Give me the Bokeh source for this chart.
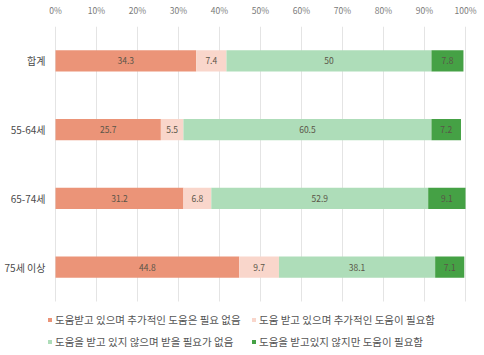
from bokeh.plotting import figure
from bokeh.models import ColumnDataSource, Range1d, Legend, LegendItem, FixedTicker, CustomJSTickFormatter
from bokeh.core.properties import value
from bokeh.embed import file_html
from bokeh.resources import INLINE

categories = ["합계", "55-64세", "65-74세", "75세 이상"]
series_names = [
    "도움받고 있으며 추가적인 도움은 필요 없음",
    "도움 받고 있으며 추가적인 도움이 필요함",
    "도움을 받고 있지 않으며 받을 필요가 없음",
    "도움을 받고있지 않지만 도움이 필요함",
]
s1 = [34.3, 25.7, 31.2, 44.8]
s2 = [7.4, 5.5, 6.8, 9.7]
s3 = [50, 60.5, 52.9, 38.1]
s4 = [7.8, 7.2, 9.1, 7.1]
x_ticks = [0, 10, 20, 30, 40, 50, 60, 70, 80, 90, 100]

colors = ["#EB9478", "#F9D6CB", "#AEDDB9", "#45A145"]
keys = ["s1", "s2", "s3", "s4"]
FONT = "Noto Sans CJK KR"

# layout (pixels)
W, H = 484, 355
LEFT, RIGHT, TOP = 55, 19, 20
BAND = 70  # px per category
pxu = 100 / (W - LEFT - RIGHT)  # data units per px (x)
n = len(categories)
ypos = [n - 1 - i for i in range(n)]  # top category highest
y_top = n - 0.5
y_bot = y_top - (H - TOP) / BAND

src = ColumnDataSource(dict(y=ypos, cat=categories, s1=s1, s2=s2, s3=s3, s4=s4))

p = figure(width=W, height=H, output_backend="svg", toolbar_location=None,
           x_range=Range1d(-LEFT * pxu, 100 + RIGHT * pxu), y_range=Range1d(y_bot, y_top),
           x_axis_location="above", y_axis_location=None,
           min_border_left=0, min_border_right=0, min_border_top=TOP, min_border_bottom=0)
p.outline_line_color = None
p.grid.visible = False

# grid lines at ticks, spanning the category area
p.segment(x0=x_ticks, x1=x_ticks, y0=[y_top] * len(x_ticks), y1=[-0.5] * len(x_ticks),
          line_color="#E4E4E4", line_width=1)

renderers = p.hbar_stack(keys, y="y", height=0.31, color=colors, source=src, line_color=None)

vals = [s1, s2, s3, s4]
lx, ly, lt = [], [], []
for i in range(n):
    cum = 0
    for v in vals:
        lx.append(cum + v[i] / 2)
        ly.append(ypos[i])
        lt.append(f"{v[i]:g}")
        cum += v[i]
p.text(x=lx, y=ly, text=lt, text_align="center", text_baseline="middle",
       text_font=value(FONT), text_font_size="8.5px", text_color="#5A5548")

# category labels
p.text(x=[-10 * pxu] * n, y=ypos, text=categories, text_align="right", text_baseline="middle",
       text_font=value(FONT), text_font_size="10px", text_color="#4A4A4A")

p.xaxis.ticker = FixedTicker(ticks=x_ticks)
p.xaxis.formatter = CustomJSTickFormatter(code="return tick + '%';")
p.xaxis.axis_line_color = None
p.xaxis.major_tick_line_color = None
p.xaxis.minor_tick_line_color = None
p.xaxis.major_label_text_font = FONT
p.xaxis.major_label_text_font_size = "8.5px"
p.xaxis.major_label_text_color = "#7A7A7A"
p.xaxis.major_label_standoff = 5

for cols, loc in (([0, 2], (47, 6)), ([1, 3], (251, 6))):
    lg = Legend(items=[LegendItem(label=series_names[i], renderers=[renderers[i]]) for i in cols],
                location=loc)
    lg.label_text_font = FONT
    lg.label_text_font_size = "10.5px"
    lg.label_text_color = "#555555"
    lg.glyph_width = 5
    lg.glyph_height = 5
    lg.label_standoff = 3
    lg.spacing = 7
    lg.padding = 0
    lg.margin = 0
    lg.border_line_color = None
    lg.background_fill_alpha = 0
    lg.label_height = 12
    p.add_layout(lg)

open("out.html", "w").write(file_html(p, INLINE))
